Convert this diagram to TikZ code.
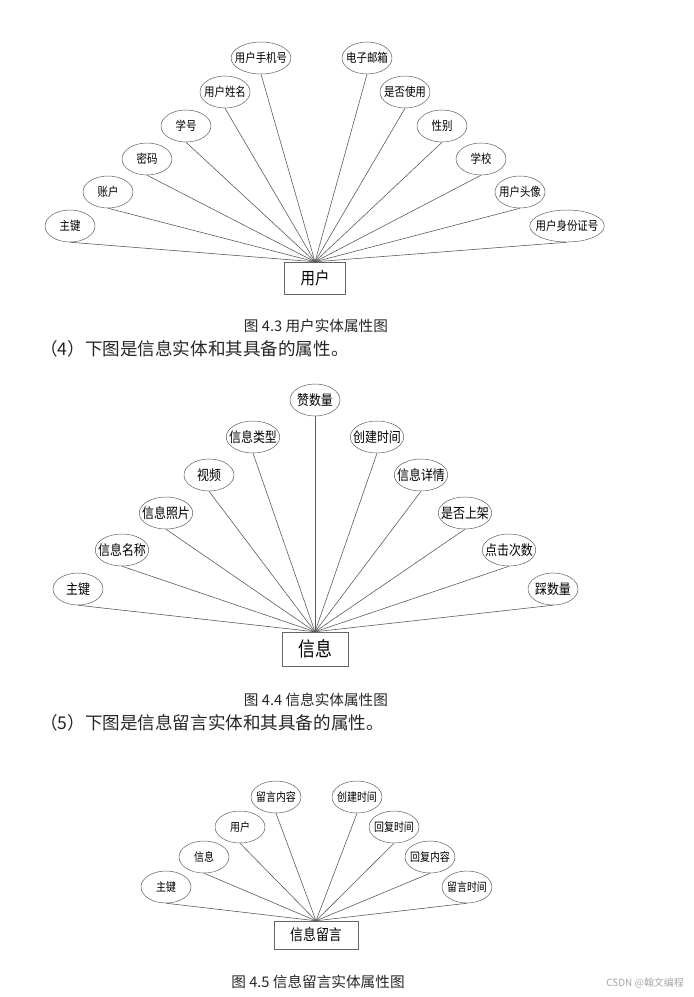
\documentclass[tikz,border=0pt]{standalone}
\usepackage{fontspec}
\usepackage{xcolor}
\usepackage{tikz}
\usetikzlibrary{shapes.geometric}
\newfontfamily\cjk{Noto Sans CJK SC}
\newfontfamily\cjknarrow[FakeStretch=0.85]{Noto Sans CJK SC}

\begin{document}
\begin{tikzpicture}[
    x=0.03cm, y=-0.03cm,
    attr/.style={
        ellipse,
        draw=black!65,
        fill=white,
        inner xsep=-0.15cm,
        inner ysep=0pt,
        align=center,
        minimum width=1.5cm,
        minimum height=0.96cm
    },
    entity/.style={
        rectangle,
        draw=black!60,
        fill=white,
        inner sep=0pt,
        align=center
    },
    link/.style={draw=black!65, line width=0.5pt},
    caption/.style={font=\cjk\fontsize{12.5}{14}\selectfont, text=black!85},
    para/.style={anchor=west, font=\cjk\fontsize{15}{17}\selectfont, text=black!85}
]
\useasboundingbox (0,0) rectangle (694,997);

% user entity
\node[entity, minimum width=1.83cm, minimum height=0.96cm,
      font=\cjknarrow\fontsize{14.5}{16}\selectfont] (user) at (315,278) {用户};
\begin{scope}[every node/.append style={font=\cjknarrow\fontsize{10.5}{11}\selectfont}]
\node[attr] (ukey) at (70,226) {主键};
\node[attr] (uacct) at (108,192) {账户};
\node[attr] (upwd) at (147,159) {密码};
\node[attr] (uno) at (186,126) {学号};
\node[attr] (uname) at (225,92) {用户姓名};
\node[attr] (uphone) at (261,58) {用户手机号};
\node[attr] (umail) at (367,58) {电子邮箱};
\node[attr] (uused) at (405,92) {是否使用};
\node[attr] (usex) at (442,126) {性别};
\node[attr] (uschool) at (481,159) {学校};
\node[attr] (uavatar) at (520,192) {用户头像};
\node[attr] (uidcard) at (567,226) {用户身份证号};
\end{scope}
\foreach \n in {ukey,uacct,upwd,uno,uname,uphone,umail,uused,usex,uschool,uavatar,uidcard}
    \draw[link] (\n.south) -- (user.north);

\node[caption] (cap1) at (316,326) {图 4.3 用户实体属性图};
\node[para] (par4) at (36,349) {（4）下图是信息实体和其具备的属性。};

% info entity
\node[entity, minimum width=1.98cm, minimum height=1.02cm,
      font=\cjknarrow\fontsize{17}{19}\selectfont] (info) at (315,649) {信息};
\begin{scope}[every node/.append style={font=\cjknarrow\fontsize{12}{13}\selectfont,
      minimum width=1.68cm, minimum height=1.02cm}]
\node[attr] (ikey) at (78,589) {主键};
\node[attr] (iname) at (122,550) {信息名称};
\node[attr] (iphoto) at (166,513) {信息照片};
\node[attr] (ivideo) at (209,475) {视频};
\node[attr] (itype) at (253,437) {信息类型};
\node[attr] (ilike) at (315,400) {赞数量};
\node[attr] (itime) at (377,437) {创建时间};
\node[attr] (idetail) at (421,475) {信息详情};
\node[attr] (ionline) at (465,513) {是否上架};
\node[attr] (iclick) at (509,550) {点击次数};
\node[attr] (idislike) at (553,589) {踩数量};
\end{scope}
\foreach \n in {ikey,iname,iphoto,ivideo,itype,ilike,itime,idetail,ionline,iclick,idislike}
    \draw[link] (\n.south) -- (info.north);

\node[caption] (cap2) at (316,700) {图 4.4 信息实体属性图};
\node[para] (par5) at (36,723) {（5）下图是信息留言实体和其具备的属性。};

% message entity
\node[entity, minimum width=2.52cm, minimum height=0.84cm,
      font=\cjknarrow\fontsize{13}{14}\selectfont] (msg) at (316,935) {信息留言};
\begin{scope}[every node/.append style={font=\cjknarrow\fontsize{10}{11}\selectfont,
      minimum width=1.56cm, minimum height=0.9cm}]
\node[attr] (mkey) at (166,887) {主键};
\node[attr] (minfo) at (204,857) {信息};
\node[attr] (muser) at (240,827) {用户};
\node[attr] (mtext) at (276,797) {留言内容};
\node[attr] (mtime) at (357,797) {创建时间};
\node[attr] (mrtime) at (394,827) {回复时间};
\node[attr] (mrtext) at (430,857) {回复内容};
\node[attr] (mmtime) at (467,887) {留言时间};
\end{scope}
\foreach \n in {mkey,minfo,muser,mtext,mtime,mrtime,mrtext,mmtime}
    \draw[link] (\n.south) -- (msg.north);

\node[caption] (cap3) at (318,982) {图 4.5 信息留言实体属性图};
\node[anchor=east, font=\cjk\fontsize{8.5}{9}\selectfont, text=black!35] (mark) at (688,983) {CSDN @翰文编程};

\end{tikzpicture}
\end{document}
